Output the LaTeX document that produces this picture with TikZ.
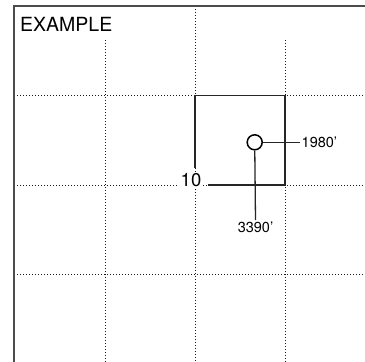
\documentclass[tikz,border=0pt]{standalone}
\usepackage{fontspec}
\setmainfont{TeX Gyre Heros}
\begin{document}
\begin{tikzpicture}[x=1pt,y=-1pt,
  gridline/.style={line width=0.9pt, dash pattern=on 1pt off 2pt, black!90},
  frameline/.style={line width=1.3pt, black!70},
  boxline/.style={line width=1.3pt, black!85},
  lbl/.style={inner sep=1.5pt, font=\fontsize{14.5}{15}\selectfont},
]
\useasboundingbox (0,0) rectangle (365,362);
\fill[white] (0,0) rectangle (365,362);
% grid
\foreach \y in {95.5,185,274.5} \draw[gridline] (14,\y) -- (365,\y);
\draw[gridline] (105,40) -- (105,362);
\draw[gridline] (195,9) -- (195,362);
\draw[gridline] (285,40) -- (285,362);
% frame
\draw[frameline] (14,362) -- (14,6) -- (365,6);
% section square
\draw[boxline] (195,168) -- (195,95.5) -- (285,95.5) -- (285,185) -- (208,185);
\node[fill=white, inner sep=2pt, font=\fontsize{18.5}{18}\selectfont] (ten) at (191,180.5) {10};
% title
\node[anchor=north west, inner sep=0pt, font=\fontsize{19.5}{20}\selectfont] (title) at (20,17.3) {EXAMPLE};
% well
\node[circle, draw, line width=1.5pt, minimum size=15pt, inner sep=0pt] (well) at (254.7,142.3) {};
\node[lbl, anchor=west] (ew) at (300,142.3) {1980'};
\node[lbl, anchor=north] (ns) at (255.5,220) {3390'};
\draw[boxline] (well) -- (ew.west);
\draw[boxline] (well) -- (ns.north);
\end{tikzpicture}
\end{document}
